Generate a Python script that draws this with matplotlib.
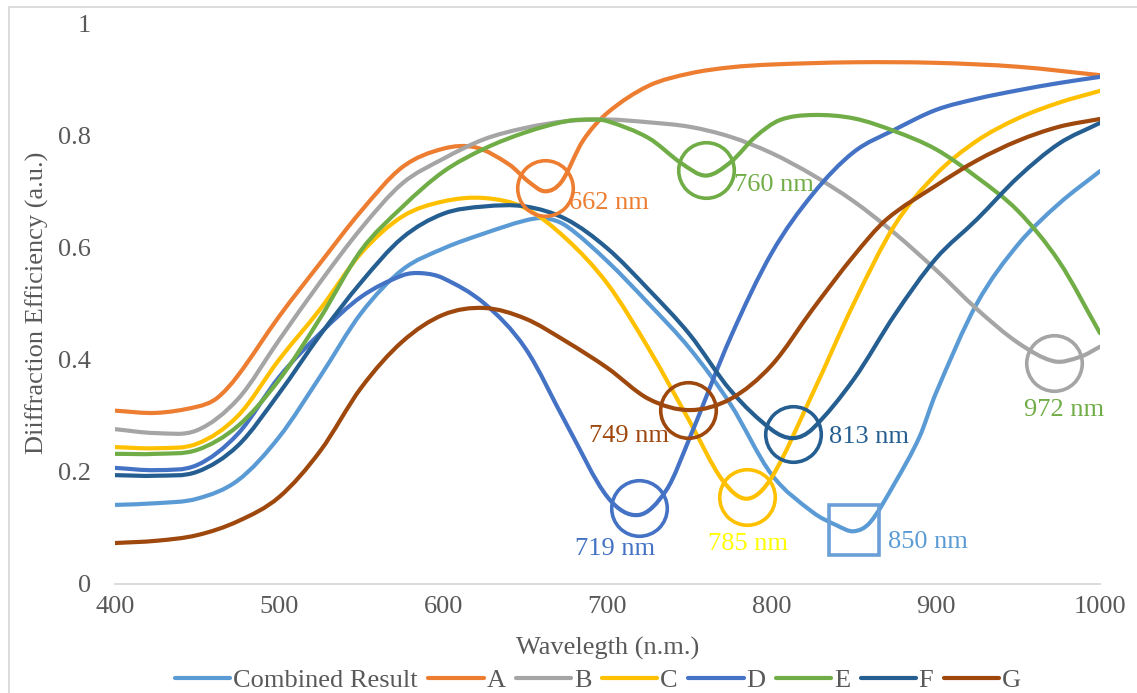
import numpy as np
import matplotlib
matplotlib.use("Agg")
import matplotlib.pyplot as plt
from matplotlib.path import Path
from matplotlib.patches import PathPatch
from matplotlib.lines import Line2D

plt.rcParams['font.family'] = ['Liberation Serif', 'DejaVu Serif']

# wavelength (nm) / diffraction efficiency for each grating design
wl_comb = [400, 425, 450, 475, 500, 525, 550, 575, 600, 625, 650, 662, 675, 700, 725,
           750, 775, 800, 825, 840, 850, 860, 875, 890, 900, 925, 950, 975, 1000]
eff_comb = [0.141, 0.144, 0.152, 0.185, 0.262, 0.37, 0.483, 0.56, 0.598, 0.625, 0.648,
            0.652, 0.638, 0.575, 0.50, 0.42, 0.32, 0.195, 0.128, 0.104, 0.094, 0.11,
            0.18, 0.262, 0.34, 0.50, 0.605, 0.678, 0.736]

wl_a = [400, 425, 450, 462, 475, 500, 525, 550, 575, 600, 620, 640, 652, 662, 672, 685,
        700, 725, 750, 775, 800, 850, 900, 950, 1000]
eff_a = [0.309, 0.305, 0.316, 0.331, 0.372, 0.477, 0.572, 0.665, 0.743, 0.776, 0.778,
         0.748, 0.717, 0.70, 0.717, 0.79, 0.84, 0.888, 0.91, 0.921, 0.926, 0.93, 0.929,
         0.922, 0.907]

wl_b = [400, 425, 450, 475, 500, 525, 550, 575, 600, 625, 650, 675, 700, 725, 750,
        775, 800, 825, 850, 875, 900, 925, 950, 972, 988, 1000]
eff_b = [0.276, 0.269, 0.274, 0.33, 0.435, 0.538, 0.634, 0.714, 0.758, 0.793, 0.813,
         0.825, 0.828, 0.823, 0.815, 0.797, 0.768, 0.729, 0.682, 0.625, 0.56, 0.49,
         0.43, 0.397, 0.405, 0.423]

wl_c = [400, 425, 450, 475, 500, 525, 550, 575, 600, 625, 650, 675, 700, 725, 750,
        770, 785, 800, 825, 850, 875, 900, 925, 950, 975, 1000]
eff_c = [0.244, 0.242, 0.25, 0.30, 0.40, 0.49, 0.59, 0.655, 0.682, 0.688, 0.67,
         0.615, 0.535, 0.42, 0.29, 0.185, 0.152, 0.19, 0.34, 0.50, 0.64, 0.73,
         0.79, 0.83, 0.858, 0.879]

wl_d = [400, 425, 450, 475, 500, 525, 550, 575, 587, 600, 625, 650, 675, 700, 719,
        736, 750, 775, 800, 825, 850, 875, 900, 925, 950, 975, 1000]
eff_d = [0.207, 0.203, 0.212, 0.268, 0.369, 0.447, 0.512, 0.55, 0.554, 0.545, 0.50,
         0.42, 0.285, 0.155, 0.123, 0.168, 0.26, 0.44, 0.59, 0.695, 0.77, 0.81,
         0.845, 0.865, 0.88, 0.893, 0.904]

wl_e = [400, 425, 450, 475, 500, 525, 550, 575, 600, 625, 650, 675, 690, 700, 725,
        745, 760, 775, 790, 805, 825, 850, 875, 900, 925, 950, 975, 1000]
eff_e = [0.232, 0.232, 0.239, 0.282, 0.364, 0.474, 0.595, 0.672, 0.735, 0.776, 0.805,
         0.825, 0.828, 0.825, 0.795, 0.75, 0.728, 0.752, 0.797, 0.827, 0.836, 0.83,
         0.807, 0.775, 0.725, 0.665, 0.575, 0.447]

wl_f = [400, 425, 450, 475, 500, 525, 550, 575, 600, 625, 650, 675, 700, 725, 750,
        775, 800, 813, 825, 850, 875, 900, 925, 950, 975, 1000]
eff_f = [0.194, 0.193, 0.2, 0.247, 0.34, 0.444, 0.538, 0.617, 0.66, 0.673, 0.673,
         0.65, 0.598, 0.525, 0.445, 0.345, 0.275, 0.26, 0.277, 0.365, 0.48, 0.58,
         0.65, 0.725, 0.785, 0.822]

wl_g = [400, 425, 450, 475, 500, 525, 550, 575, 600, 625, 650, 675, 700, 725, 750,
        775, 800, 825, 850, 870, 900, 925, 950, 975, 1000]
eff_g = [0.073, 0.077, 0.087, 0.112, 0.155, 0.237, 0.35, 0.432, 0.48, 0.492, 0.473,
         0.432, 0.385, 0.33, 0.31, 0.33, 0.39, 0.49, 0.585, 0.65, 0.71, 0.755,
         0.79, 0.815, 0.829]

names = ['Combined Result', 'A', 'B', 'C', 'D', 'E', 'F', 'G']
colors = ['#5B9BD5', '#ED7D31', '#A5A5A5', '#FFC000', '#4472C4', '#70AD47', '#255E91', '#9E480E']
series = [(wl_comb, eff_comb), (wl_a, eff_a), (wl_b, eff_b), (wl_c, eff_c),
          (wl_d, eff_d), (wl_e, eff_e), (wl_f, eff_f), (wl_g, eff_g)]

# marked minima: wavelength, efficiency, label colour
min_nm = [662, 760, 719, 749, 785, 813, 850, 972]
min_eff = [0.706, 0.738, 0.135, 0.31, 0.155, 0.267, 0.097, 0.394]
min_col = ['#ED7D31', '#70AD47', '#4472C4', '#9E480E', '#FFC000', '#255E91', '#6A9FD8', '#A5A5A5']
min_txt_col = ['#ED7D31', '#70AD47', '#4472C4', '#9E480E', '#FFFF00', '#255E91', '#5B9BD5', '#70AD47']
min_offset = [(17, -11), (20, -11), (-17, -29), (-14, -19), (1, -34), (26, -2), (25, -9), (7, -34)]
min_ha = ['left', 'left', 'center', 'right', 'center', 'left', 'left', 'center']


def smooth_path(xs, ys):
    # cubic bezier through the points, slopes from neighbouring points
    x = np.asarray(xs, float)
    y = np.asarray(ys, float)
    n = len(x)
    s = np.zeros(n)
    s[0] = (y[1] - y[0]) / (x[1] - x[0])
    s[-1] = (y[-1] - y[-2]) / (x[-1] - x[-2])
    for i in range(1, n - 1):
        s[i] = (y[i + 1] - y[i - 1]) / (x[i + 1] - x[i - 1])
    verts = [(x[0], y[0])]
    codes = [Path.MOVETO]
    for i in range(n - 1):
        dx = x[i + 1] - x[i]
        verts += [(x[i] + dx / 3, y[i] + s[i] * dx / 3),
                  (x[i + 1] - dx / 3, y[i + 1] - s[i + 1] * dx / 3),
                  (x[i + 1], y[i + 1])]
        codes += [Path.CURVE4] * 3
    return Path(verts, codes)


fig = plt.figure(figsize=(11.37, 6.93), dpi=100)
ax = fig.add_axes([0.1011, 0.1573, 0.8664, 0.8095])

handles = []
for (xs, ys), c, nm in zip(series, colors, names):
    ax.add_patch(PathPatch(smooth_path(xs, ys), fill=False, edgecolor=c, lw=3,
                           capstyle='round', joinstyle='round'))
    handles.append(Line2D([], [], color=c, lw=3, solid_capstyle='round', label=nm))

for i in range(len(min_nm)):
    mk = 's' if min_nm[i] == 850 else 'o'
    ms = 36 if mk == 's' else 40
    ax.plot(min_nm[i], min_eff[i], marker=mk, ms=ms, mfc='none', mec=min_col[i],
            mew=2.6, zorder=5)
    ax.annotate(f'{min_nm[i]} nm', (min_nm[i], min_eff[i]), xytext=min_offset[i],
                textcoords='offset points', ha=min_ha[i], va='center',
                fontsize=19, color=min_txt_col[i], zorder=6)

ax.set_xlim(400, 1000)
ax.set_ylim(0, 1)
ax.set_xticks([400, 500, 600, 700, 800, 900, 1000])
ax.set_yticks([0, 0.2, 0.4, 0.6, 0.8, 1])
ax.set_yticklabels(['0', '0.2', '0.4', '0.6', '0.8', '1'])
ax.tick_params(axis='both', length=0, labelsize=19, labelcolor='#595959')
ax.tick_params(axis='y', pad=17)
ax.tick_params(axis='x', pad=9)
for side in ['top', 'right', 'left']:
    ax.spines[side].set_visible(False)
ax.spines['bottom'].set_color('#D9D9D9')
ax.spines['bottom'].set_linewidth(1.3)

fig.text(607.5 / 1137, 1 - 648 / 693, 'Wavelegth (n.m.)', ha='center', va='center',
         fontsize=19, color='#595959')
fig.text(37 / 1137, 1 - 303 / 693, 'Diiffraction Efficiency (a.u.)', ha='center',
         va='center', rotation=90, fontsize=19, color='#595959')

fig.legend(handles=handles, loc='center', bbox_to_anchor=(598 / 1137, 1 - 680 / 693),
           ncol=8, frameon=False, fontsize=19, labelcolor='#595959', handlelength=2.1,
           handletextpad=0.1, columnspacing=0.4, borderpad=0, borderaxespad=0)

# chart area border
fig.add_artist(Line2D([8.5 / 1137, 8.5 / 1137], [0, 1 - 6.5 / 693], color='#D9D9D9', lw=1.3))
fig.add_artist(Line2D([8.5 / 1137, 1], [1 - 6.5 / 693, 1 - 6.5 / 693], color='#D9D9D9', lw=1.3))

fig.savefig('out.png', dpi=100)
